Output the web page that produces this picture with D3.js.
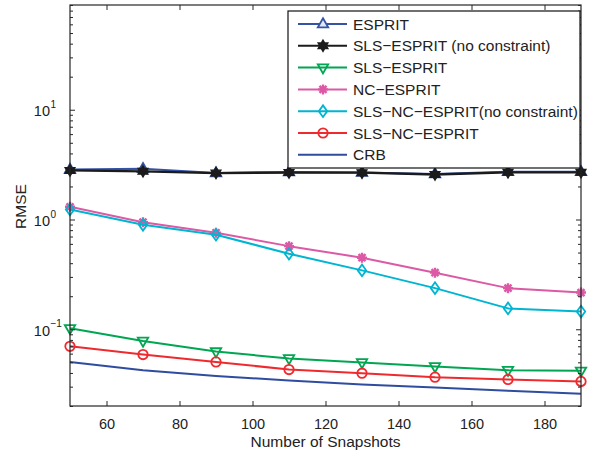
<!DOCTYPE html>
<html>
<head>
<meta charset="utf-8">
<script src="https://cdn.jsdelivr.net/npm/d3@7"></script>
<style>
  html, body { margin: 0; padding: 0; background: #fff; }
  svg { display: block; font-family: "Liberation Sans", Arial, Helvetica, sans-serif; }
</style>
</head>
<body>
<svg id="chart" width="594" height="451"></svg>
<script>
// Snapshots on the x axis
const snapshots = [50, 70, 90, 110, 130, 150, 170, 190];

// RMSE per method
const esprit          = [2.85, 2.9, 2.65, 2.7, 2.68, 2.6, 2.72, 2.72];
const slsEspritNoCon  = [2.8, 2.75, 2.65, 2.68, 2.67, 2.57, 2.69, 2.69];
const slsEsprit       = [0.102, 0.0783, 0.0627, 0.0542, 0.0498, 0.0458, 0.0424, 0.0418];
const ncEsprit        = [1.305, 0.945, 0.757, 0.572, 0.449, 0.328, 0.237, 0.216];
const slsNcEspritNoCon= [1.233, 0.895, 0.726, 0.488, 0.344, 0.237, 0.155, 0.145];
const slsNcEsprit     = [0.070, 0.0589, 0.0504, 0.043, 0.0398, 0.0366, 0.0349, 0.0335];
const crb             = [0.0504, 0.0424, 0.0376, 0.0342, 0.0314, 0.0295, 0.0275, 0.0258];

const seriesNames = ["ESPRIT", "SLS\u2212ESPRIT (no constraint)", "SLS\u2212ESPRIT", "NC\u2212ESPRIT",
                     "SLS\u2212NC\u2212ESPRIT(no constraint)", "SLS\u2212NC\u2212ESPRIT", "CRB"];

const xTicks = [60, 80, 100, 120, 140, 160, 180];
const yMajor = [0.1, 1, 10];
const yMajorExp = ["\u22121", "0", "1"];
const xTitle = "Number of Snapshots";
const yTitle = "RMSE";

const series = [
  { name: seriesNames[0], values: esprit,           color: "#3553a4", marker: "triUp",   fill: "#dfe6f5" },
  { name: seriesNames[1], values: slsEspritNoCon,   color: "#1b1b1b", marker: "hexagram", fill: "#1b1b1b" },
  { name: seriesNames[2], values: slsEsprit,        color: "#00a651", marker: "triDown", fill: "none" },
  { name: seriesNames[3], values: ncEsprit,         color: "#dc5aa5", marker: "asterisk", fill: "none" },
  { name: seriesNames[4], values: slsNcEspritNoCon, color: "#00b5d1", marker: "diamond", fill: "none" },
  { name: seriesNames[5], values: slsNcEsprit,      color: "#ee2a2f", marker: "circle",  fill: "none" },
  { name: seriesNames[6], values: crb,              color: "#2f4c9f", marker: null,      fill: "none" }
];

const svg = d3.select("#chart");
const plotL = 70, plotR = 581, plotT = 5, plotB = 406;
const textColor = "#222";

const x = d3.scaleLinear().domain([50, 190]).range([plotL, plotR]);
const y = d3.scaleLog().domain([0.02, 90]).range([plotB, plotT]);

// marker shapes
function markerPath(type) {
  switch (type) {
    case "triUp":   return "M0,-5.8L5.2,3.3L-5.2,3.3Z";
    case "triDown": return "M0,5.8L5.2,-3.3L-5.2,-3.3Z";
    case "diamond": return "M0,-5.8L4.2,0L0,5.8L-4.2,0Z";
    case "circle":  return d3.symbol(d3.symbolCircle, 70)();
    case "hexagram": {
      const r = 5.8, pts = [];
      for (let k = 0; k < 12; k++) {
        const a = -Math.PI / 2 + k * Math.PI / 6;
        const rr = k % 2 === 0 ? r : r * 0.58;
        pts.push([rr * Math.cos(a), rr * Math.sin(a)]);
      }
      return "M" + pts.map(p => p.join(",")).join("L") + "Z";
    }
    case "asterisk": {
      const r = 5;
      const d = r * Math.SQRT1_2;
      return `M${-r},0L${r},0M0,${-r}L0,${r}M${-d},${-d}L${d},${d}M${-d},${d}L${d},${-d}`;
    }
  }
  return "";
}

function drawMarker(g, s, cx, cy) {
  if (!s.marker) return;
  const p = g.append("path")
    .attr("d", markerPath(s.marker))
    .attr("transform", `translate(${cx},${cy})`)
    .attr("stroke", s.color)
    .attr("stroke-width", s.marker === "asterisk" ? 2.4 : 1.8)
    .attr("fill", s.fill)
    .attr("stroke-linejoin", "miter");
  if (s.marker === "hexagram") p.attr("stroke-width", 1.2);
}

// plot area background
svg.append("rect").attr("x", plotL).attr("y", plotT)
  .attr("width", plotR - plotL).attr("height", plotB - plotT).attr("fill", "#fff");

// series lines and markers
const line = d3.line().x((d, i) => x(snapshots[i])).y(d => y(d));
const plot = svg.append("g");
series.forEach(s => {
  plot.append("path")
    .attr("d", line(s.values))
    .attr("fill", "none")
    .attr("stroke", s.color)
    .attr("stroke-width", s.marker === "hexagram" ? 2.3 : 2)
    .attr("stroke-linejoin", "round");
  const mg = plot.append("g");
  s.values.forEach((v, i) => drawMarker(mg, s, x(snapshots[i]), y(v)));
});

// axes: ticks point inward, box on all four sides
const axisColor = "#262626";
const minorTicks = [];
[0.01, 0.1, 1, 10].forEach(b => { for (let m = 2; m <= 9; m++) { const v = b * m; if (v >= 0.02 && v <= 90) minorTicks.push(v); } });

const gBottom = svg.append("g").attr("transform", `translate(0,${plotB})`)
  .call(d3.axisBottom(x).tickValues(xTicks).tickSize(-5).tickPadding(12.7).tickFormat(d3.format("d")));
const gTop = svg.append("g").attr("transform", `translate(0,${plotT})`)
  .call(d3.axisTop(x).tickValues(xTicks).tickSize(-5).tickFormat(""));
const gLeft = svg.append("g").attr("transform", `translate(${plotL},0)`)
  .call(d3.axisLeft(y).tickValues(yMajor).tickSize(-5).tickFormat(""));
const gRight = svg.append("g").attr("transform", `translate(${plotR},0)`)
  .call(d3.axisRight(y).tickValues(yMajor).tickSize(-5).tickFormat(""));
const gLeftMinor = svg.append("g").attr("transform", `translate(${plotL},0)`)
  .call(d3.axisLeft(y).tickValues(minorTicks).tickSize(-3).tickFormat(""));
const gRightMinor = svg.append("g").attr("transform", `translate(${plotR},0)`)
  .call(d3.axisRight(y).tickValues(minorTicks).tickSize(-3).tickFormat(""));

[gBottom, gTop, gLeft, gRight, gLeftMinor, gRightMinor].forEach(g => {
  g.select(".domain").remove();
  g.selectAll(".tick line").attr("stroke", axisColor).attr("stroke-width", 1);
});
gBottom.selectAll(".tick text").attr("font-size", 14.5).attr("fill", textColor)
  .attr("font-family", "'Liberation Sans', Arial, sans-serif");

svg.append("rect").attr("x", plotL).attr("y", plotT)
  .attr("width", plotR - plotL).attr("height", plotB - plotT)
  .attr("fill", "none").attr("stroke", axisColor).attr("stroke-width", 1.2);

// log-axis labels with exponent
yMajor.forEach((v, i) => {
  svg.append("text")
    .attr("x", 50).attr("y", y(v) + 6.5)
    .attr("text-anchor", "end")
    .attr("font-size", 14.5).attr("fill", textColor)
    .text("10");
  svg.append("text")
    .attr("x", 50.5).attr("y", y(v) - 2)
    .attr("font-size", 10).attr("fill", textColor)
    .text(yMajorExp[i]);
});

// axis titles
svg.append("text").attr("x", (plotL + plotR) / 2).attr("y", 447)
  .attr("text-anchor", "middle").attr("font-size", 15.5).attr("fill", textColor).text(xTitle);
svg.append("text").attr("transform", `translate(26,${(plotT + plotB) / 2 + 1}) rotate(-90)`)
  .attr("text-anchor", "middle").attr("font-size", 15.5).attr("fill", textColor).text(yTitle);

// legend
const lg = svg.append("g");
const lgX0 = 288, lgY0 = 11, lgX1 = 580, lgY1 = 168;
lg.append("rect").attr("x", lgX0).attr("y", lgY0).attr("width", lgX1 - lgX0).attr("height", lgY1 - lgY0)
  .attr("fill", "#fff").attr("stroke", "#111").attr("stroke-width", 1.2);
series.forEach((s, i) => {
  const cy = 24 + i * 21.8;
  lg.append("line").attr("x1", 298).attr("x2", 347).attr("y1", cy).attr("y2", cy)
    .attr("stroke", s.color).attr("stroke-width", 2);
  drawMarker(lg, s, 323, cy);
  lg.append("text").attr("x", 353).attr("y", cy + 5.5)
    .attr("font-size", 15.5).attr("fill", textColor).text(s.name);
});
</script>
</body>
</html>
